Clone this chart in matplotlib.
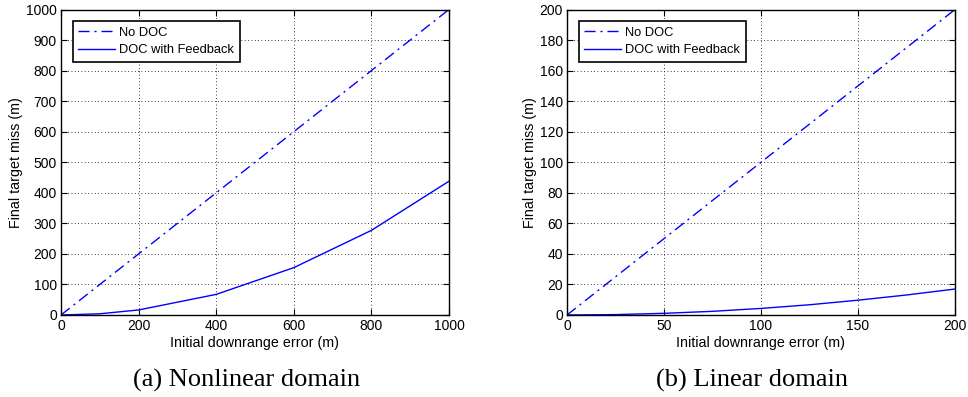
import matplotlib
matplotlib.use("Agg")
import matplotlib.pyplot as plt
import numpy as np

# Nonlinear domain data
x_nl = [0, 100, 200, 400, 600, 800, 1000]
nodoc_nl = [0, 100, 200, 400, 600, 800, 1000]
doc_nl = [0, 4, 16.5, 67.5, 155, 277, 438]

# Linear domain data
x_lin = [0, 25, 50, 75, 100, 125, 150, 175, 200]
nodoc_lin = [0, 25, 50, 75, 100, 125, 150, 175, 200]
doc_lin = [0, 0.27, 1.1, 2.4, 4.3, 6.7, 9.7, 13.1, 17]

xlabel = "Initial downrange error (m)"
ylabel = "Final target miss (m)"
labels = ["No DOC", "DOC with Feedback"]
captions = ["(a) Nonlinear domain", "(b) Linear domain"]

plt.rcParams['font.family'] = ['Liberation Sans', 'DejaVu Sans']
fig = plt.figure(figsize=(9.68, 3.97), dpi=100)
W, H = 968, 397

def make_ax(left, right, top, bottom):
    return fig.add_axes([left / W, 1 - bottom / H, (right - left) / W, (bottom - top) / H])

ax1 = make_ax(61, 449, 9.5, 315)
ax2 = make_ax(567, 955, 9.5, 315)

specs = [
    (ax1, x_nl, nodoc_nl, doc_nl, 1000, np.arange(0, 1001, 200), np.arange(0, 1001, 100)),
    (ax2, x_lin, nodoc_lin, doc_lin, 200, np.arange(0, 201, 50), np.arange(0, 201, 20)),
]
for ax, x, a, b, lim, xt, yt in specs:
    ax.plot(x, a, color=(0, 0, 1), lw=1.0, linestyle=(0, (8, 3.5, 1.5, 3.5)), label=labels[0])
    ax.plot(x, b, color=(0, 0, 1), lw=1.0, linestyle='-', label=labels[1])
    ax.set_xlim(0, lim)
    ax.set_ylim(0, lim)
    ax.set_xticks(xt)
    ax.set_yticks(yt)
    ax.grid(True, color='black', linestyle=(0, (1, 3)), lw=0.6)
    ax.tick_params(direction='in', top=True, right=True, labelsize=10, length=4, pad=3)
    for s in ax.spines.values():
        s.set_linewidth(1.0)
    ax.set_xlabel(xlabel, fontsize=10.3, labelpad=2)
    ax.set_ylabel(ylabel, fontsize=10.3, labelpad=2)
    leg = ax.legend(loc='upper left', fontsize=9.3, fancybox=False, framealpha=1,
                    edgecolor='black', handlelength=2.8, handletextpad=0.35,
                    borderaxespad=0.9, borderpad=0.45, labelspacing=0.4)
    leg.get_frame().set_linewidth(1.2)

fig.text(247 / W, 1 - 380 / H, captions[0], ha='center', va='center',
         fontsize=19, family='Liberation Serif')
fig.text(752 / W, 1 - 380 / H, captions[1], ha='center', va='center',
         fontsize=19, family='Liberation Serif')

fig.savefig("out.png", dpi=100)
